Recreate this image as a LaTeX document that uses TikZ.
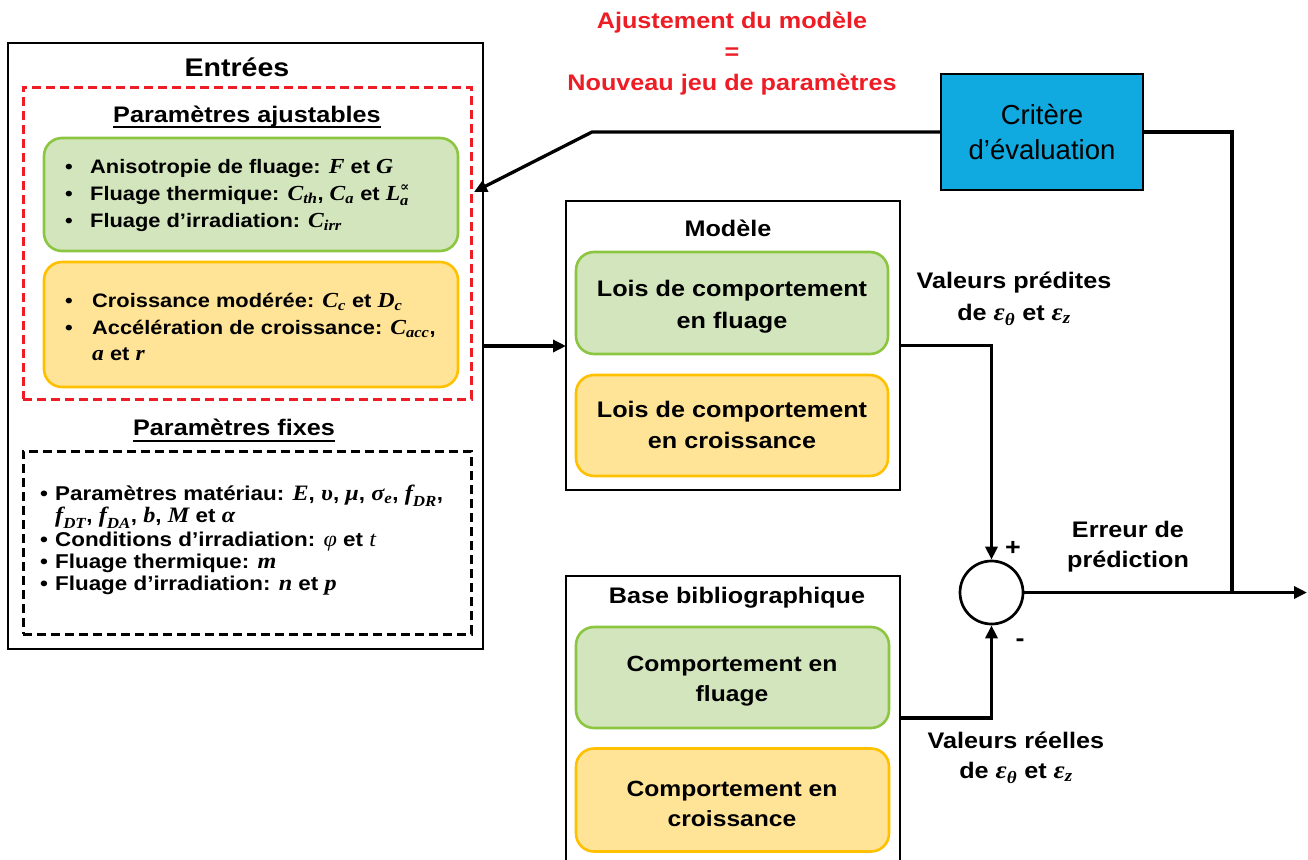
\documentclass[tikz,border=0pt]{standalone}
\usepackage{amsmath}
\usepackage{fontspec}
\setmainfont{Liberation Sans}[BoldFeatures={FakeStretch=1.12}]
\newfontfamily\mfont{Liberation Serif}[Scale=1.1,FakeStretch=1.1]
\newfontfamily\dvfont{DejaVu Serif}
\usetikzlibrary{arrows.meta}
\definecolor{gfill}{HTML}{D3E5BC}
\definecolor{gline}{HTML}{8CC640}
\definecolor{ofill}{HTML}{FFE497}
\definecolor{oline}{HTML}{FFC000}
\definecolor{bfill}{HTML}{10A9E0}
\definecolor{rtext}{HTML}{EE1C25}
\newcommand\bul[1]{\makebox[#1][l]{\textbullet}}
\newcommand\mv[1]{\text{\mfont\bfseries\itshape #1}}
\newcommand\mr[1]{\text{\mfont\mdseries\itshape #1}}
\lineskiplimit=-100pt
\begin{document}
\begin{tikzpicture}[x=1pt,y=-1pt,
  frame/.style={draw=black,line width=2.5pt,inner sep=0pt,outer sep=0pt},
  gbox/.style={draw=gline,fill=gfill,line width=2.6pt,rounded corners=18pt,inner sep=0pt,outer sep=0pt},
  obox/.style={draw=oline,fill=ofill,line width=2.6pt,rounded corners=18pt,inner sep=0pt,outer sep=0pt},
  lbl/.style={font=\fontsize{22.5}{30}\selectfont\bfseries,align=center,inner sep=0pt},
  bullets/.style={anchor=west,align=left,inner sep=0pt},
  conn/.style={line width=3.3pt},
  arr/.style={conn,-{Triangle[length=13pt,width=12pt]}},
  uline/.style={line width=1.8pt}
]
\useasboundingbox (0,0) rectangle (1308,859);
\clip (0,0) rectangle (1308,859);

% ---------- Entrees ----------
\node[frame,minimum width=475pt,minimum height=606pt] (entrees) at (245.5,346) {};
\node[inner sep=0pt,font=\fontsize{25.5}{30}\selectfont\bfseries] (tEntrees) at (237,67) {Entrées};
\node[draw=rtext,line width=3pt,dash pattern=on 9pt off 5pt,minimum width=448pt,minimum height=312pt,inner sep=0pt] (reddash) at (247,243) {};
\node[anchor=base,inner sep=0pt,font=\fontsize{22.5}{27}\selectfont\bfseries] (hAj) at (247,122) {Paramètres ajustables};
\draw[uline] ([yshift=-5pt]hAj.base west) -- ([yshift=-5pt]hAj.base east);

\node[gbox,minimum width=414pt,minimum height=113pt] (gparam) at (251,194.5) {};
\node[bullets,font=\fontsize{19.5}{27}\selectfont\bfseries] (tgparam) at (65,195)
 {\bul{25pt}Anisotropie de fluage: $\mv{F}$ et $\mv{G}$\\
  \bul{25pt}Fluage thermique: $\mv{C}_{\mv{th}}$, $\mv{C}_{\mv{a}}$ et $\mv{L}_{\mv{a}}^{\text{\dvfont ∝}}$\\
  \bul{25pt}Fluage d’irradiation: $\mv{C}_{\mv{irr}}$};

\node[obox,minimum width=414pt,minimum height=125pt] (oparam) at (251,324.5) {};
\node[bullets,font=\fontsize{19.5}{26.5}\selectfont\bfseries] (toparam) at (65,327)
 {\bul{27pt}Croissance modérée: $\mv{C}_{\mv{c}}$ et $\mv{D}_{\mv{c}}$\\
  \bul{27pt}Accélération de croissance: $\mv{C}_{\mv{acc}}$,\\
  \hspace*{27pt}$\mv{a}$ et $\mv{r}$};

\node[anchor=base,inner sep=0pt,font=\fontsize{22.5}{27}\selectfont\bfseries] (hFx) at (234,435) {Paramètres fixes};
\draw[uline] ([yshift=-6pt]hFx.base west) -- ([yshift=-6pt]hFx.base east);

\node[draw=black,line width=3pt,dash pattern=on 9pt off 5pt,minimum width=448pt,minimum height=183pt,inner sep=0pt] (bdash) at (247,542.5) {};
\node[bullets,font=\fontsize{20}{22}\selectfont\bfseries] (tfix) at (40,540)
 {\bul{15pt}Paramètres matériau: $\mv{E}$, $\mv{υ}$, $\mv{μ}$, $\mv{σ}_{\mv{e}}$, $\mv{f}_{\mv{DR}}$,\\
  \hspace*{15pt}$\mv{f}_{\mv{DT}}$, $\mv{f}_{\mv{DA}}$, $\mv{b}$, $\mv{M}$ et $\mv{α}$\\[1.5pt]
  \bul{15pt}Conditions d’irradiation: $\mr{φ}$ et $\mr{t}$\\
  \bul{15pt}Fluage thermique: $\mv{m}$\\
  \bul{15pt}Fluage d’irradiation: $\mv{n}$ et $\mv{p}$};

% ---------- Modele ----------
\node[frame,line width=2.3pt,minimum width=334pt,minimum height=289pt] (modele) at (733,345.5) {};
\node[lbl] (tModele) at (728,228) {Modèle};
\node[gbox,minimum width=312pt,minimum height=102pt] (mg) at (732,303) {};
\node[lbl,font=\fontsize{22.5}{32}\selectfont\bfseries] (tmg) at (732,307) {Lois de comportement\\en fluage};
\node[obox,minimum width=312pt,minimum height=101pt] (mo) at (732,425.5) {};
\node[lbl,font=\fontsize{22.5}{31}\selectfont\bfseries] (tmo) at (732,425) {Lois de comportement\\en croissance};

% ---------- Base ----------
\node[frame,line width=2.3pt,minimum width=334pt,minimum height=324pt] (base) at (733,738) {};
\node[lbl] (tBase) at (737,598) {Base bibliographique};
\node[gbox,minimum width=313pt,minimum height=101pt] (bg) at (732.5,677.5) {};
\node[lbl,font=\fontsize{22}{30}\selectfont\bfseries] (tbg) at (732,681) {Comportement en\\fluage};
\node[obox,minimum width=313pt,minimum height=103pt] (bo) at (732.5,800) {};
\node[lbl,font=\fontsize{22}{30}\selectfont\bfseries] (tbo) at (732,803.5) {Comportement en\\croissance};

% ---------- Sum and criterion ----------
\node[circle,draw,line width=2.7pt,minimum size=63pt,inner sep=0pt] (sum) at (991.5,592.5) {};
\node[draw,fill=bfill,line width=2.5pt,minimum width=202pt,minimum height=116pt,align=center,inner sep=0pt,
      font=\fontsize{27.5}{35}\selectfont] (crit) at (1042,132) {Critère\\d’évaluation};

% ---------- Labels ----------
\node[lbl,text=rtext,font=\fontsize{22.5}{31}\selectfont\bfseries] (tAjust) at (732,54)
 {Ajustement du modèle\\=\\Nouveau jeu de paramètres};
\node[lbl,font=\fontsize{22.5}{32}\selectfont\bfseries] (tPred) at (1014,299)
 {Valeurs prédites\\de $\mv{ε}_{\mv{θ}}$ et $\mv{ε}_{\mv{z}}$};
\node[lbl] (tErr) at (1128,547) {Erreur de\\prédiction};
\node[lbl] (tReel) at (1016,758) {Valeurs réelles\\de $\mv{ε}_{\mv{θ}}$ et $\mv{ε}_{\mv{z}}$};
\node[lbl,font=\fontsize{24}{28}\selectfont\bfseries] (plus) at (1013,548) {+};
\node[lbl,font=\fontsize{24}{28}\selectfont\bfseries] (minus) at (1020,643) {-};

% ---------- Connectors ----------
\coordinate (y718) at (0,718);
\coordinate (branch) at (1232,592.5);
\coordinate (outend) at (1307,592.5);
\coordinate (kink) at (592,132);
\coordinate (fb) at (474,192);

\draw[arr] (entrees.east) -- (modele.west |- entrees.east);
\draw[arr] (modele.east) -| (sum.north);
\draw[arr] (base.east |- y718) -| (sum.south);
\draw[arr] (sum.east) -- (outend);
\draw[conn] (branch) |- (crit.east);
\draw[arr] (crit.west) -- (kink) -- (fb);
\end{tikzpicture}
\end{document}
